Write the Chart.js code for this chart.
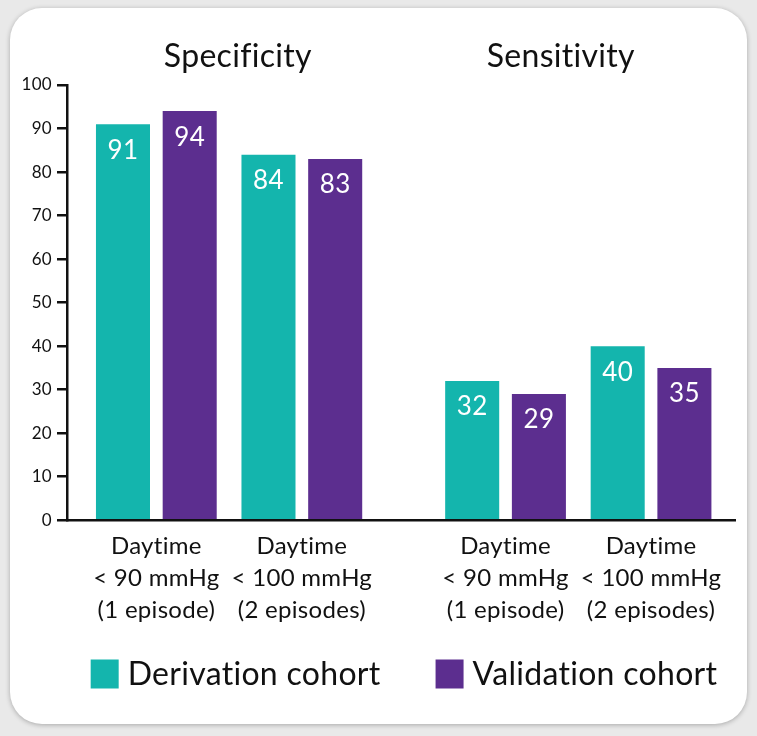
<!DOCTYPE html>
<html>
<head>
<meta charset="utf-8">
<script src="https://cdn.jsdelivr.net/npm/chart.js@4"></script>
<style>
  html, body { margin: 0; padding: 0; background: #e9e9e9; }
  #card {
    position: absolute; left: 10px; top: 8px; width: 737px; height: 716px;
    border-radius: 32px; background: #ffffff;
    box-shadow: 0 1px 5px rgba(0, 0, 0, 0.28);
  }
  canvas { position: absolute; left: 0; top: 0; }
</style>
</head>
<body>
<div id="card"></div>
<canvas id="chart" width="757" height="736"></canvas>
<script>
// Panels and the two threshold conditions shown in each panel
const panels = ['Specificity', 'Sensitivity'];
const conditions = [
  ['Daytime', '< 90 mmHg', '(1 episode)'],
  ['Daytime', '< 100 mmHg', '(2 episodes)']
];
const seriesNames = ['Derivation cohort', 'Validation cohort'];
// Values in percent, order: Specificity cond1, cond2, Sensitivity cond1, cond2
const derivation = [91, 84, 32, 40];
const validation = [94, 83, 29, 35];
const yTicks = [0, 10, 20, 30, 40, 50, 60, 70, 80, 90, 100];

const FONT = 'Lato, "Open Sans", sans-serif';
const TEAL = '#14B5AD';
const PURPLE = '#5C2E8F';
const INK = '#111111';

// Horizontal slot of each bar group: conditions sit side by side, panels are separated by a wider gap
const PANEL_STEP = 2.4;
const groupX = i => Math.floor(i / conditions.length) * PANEL_STEP + (i % conditions.length);
const groupPositions = derivation.map((_, i) => groupX(i));
const labelFor = v => {
  const idx = groupPositions.findIndex(p => Math.abs(p - v) < 1e-6);
  return idx < 0 ? '' : conditions[idx % conditions.length];
};

const toPoints = arr => arr.map((v, i) => ({ x: groupX(i), y: v }));

// A touch of tracking keeps letter pairs such as "ti" as separate glyphs
const tracking = {
  id: 'tracking',
  beforeDraw(chart) {
    if ('letterSpacing' in chart.ctx) chart.ctx.letterSpacing = '0.3px';
  }
};

// White value labels inside the top of each bar
const valueLabels = {
  id: 'valueLabels',
  afterDatasetsDraw(chart) {
    const ctx = chart.ctx;
    ctx.save();
    ctx.fillStyle = '#ffffff';
    ctx.font = '26px ' + FONT;
    ctx.textAlign = 'center';
    ctx.textBaseline = 'middle';
    chart.data.datasets.forEach((ds, di) => {
      chart.getDatasetMeta(di).data.forEach((bar, i) => {
        ctx.fillText(String(ds.data[i].y), bar.x, bar.y + 26);
      });
    });
    ctx.restore();
  }
};

// Panel headings centred over each pair of groups
const panelTitles = {
  id: 'panelTitles',
  afterDraw(chart) {
    const ctx = chart.ctx;
    const xs = chart.scales.x;
    const centres = [0.56, 0.56 + PANEL_STEP - 0.18];
    ctx.save();
    ctx.fillStyle = INK;
    ctx.font = '32px ' + FONT;
    ctx.textAlign = 'center';
    ctx.textBaseline = 'middle';
    panels.forEach((t, i) => ctx.fillText(t, xs.getPixelForValue(centres[i]), 57));
    ctx.restore();
  }
};

// Single-row legend under the axis labels: swatch, label, wide gap, swatch, label
const rowLegend = {
  id: 'rowLegend',
  afterDraw(chart) {
    const ctx = chart.ctx;
    const area = chart.chartArea;
    const box = { w: 28, h: 29 }, textGap = 9, itemGap = 55, cy = 674;
    ctx.save();
    ctx.font = '32px ' + FONT;
    ctx.textBaseline = 'middle';
    ctx.textAlign = 'left';
    const items = chart.data.datasets.map(ds => ({
      text: ds.label, color: ds.backgroundColor, w: ctx.measureText(ds.label).width
    }));
    const total = items.reduce((s, it) => s + box.w + textGap + it.w, 0) + itemGap * (items.length - 1);
    let x = (area.left + area.right) / 2 + 3 - total / 2;
    items.forEach(it => {
      ctx.fillStyle = it.color;
      ctx.fillRect(x, cy - box.h / 2, box.w, box.h);
      x += box.w + textGap;
      ctx.fillStyle = INK;
      ctx.fillText(it.text, x, cy + 1);
      x += it.w + itemGap;
    });
    ctx.restore();
  }
};

new Chart(document.getElementById('chart'), {
  type: 'bar',
  data: {
    datasets: [
      { label: seriesNames[0], data: toPoints(derivation), backgroundColor: TEAL, borderWidth: 0 },
      { label: seriesNames[1], data: toPoints(validation), backgroundColor: PURPLE, borderWidth: 0 }
    ]
  },
  options: {
    responsive: false,
    animation: false,
    events: [],
    categoryPercentage: 0.917,
    barPercentage: 0.81,
    layout: { padding: { left: 20, right: 22, top: 85, bottom: 100 } },
    plugins: {
      tooltip: { enabled: false },
      legend: { display: false }
    },
    scales: {
      x: {
        type: 'linear',
        offset: false,
        min: -0.614,
        max: 3.977,
        afterBuildTicks: s => { s.ticks = groupPositions.map(v => ({ value: v })); },
        grid: { display: false, drawTicks: false },
        border: { color: INK, width: 2.5 },
        ticks: {
          autoSkip: false,
          maxRotation: 0,
          padding: 10,
          color: INK,
          font: { family: FONT, size: 24, lineHeight: 1.33 },
          callback: v => labelFor(v)
        }
      },
      y: {
        min: 0,
        max: 100,
        afterBuildTicks: s => { s.ticks = yTicks.map(v => ({ value: v })); },
        afterFit: s => { s.width = 47; },
        grid: { drawOnChartArea: false, drawTicks: true, tickLength: 10, color: INK, lineWidth: 2.5 },
        border: { color: INK, width: 2.5 },
        ticks: {
          padding: 5,
          color: INK,
          font: { family: FONT, size: 17 }
        }
      }
    }
  },
  plugins: [tracking, valueLabels, panelTitles, rowLegend]
});
</script>
</body>
</html>
